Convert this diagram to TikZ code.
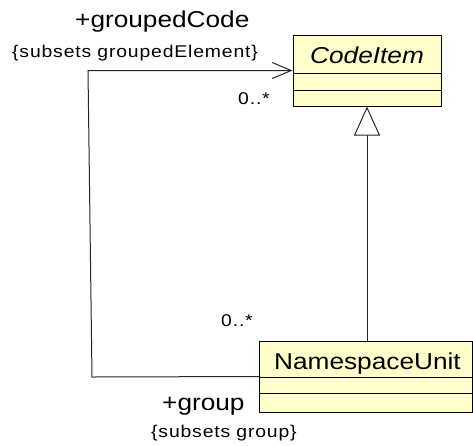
\documentclass[tikz,border=0pt]{standalone}
\usepackage{fontspec}
\setmainfont{Liberation Sans}
\newfontfamily\bigfont[FakeStretch=1.14]{Liberation Sans}
\newfontfamily\bigitfont[FakeStretch=1.14]{Liberation Sans Italic}
\newfontfamily\smallfont[FakeStretch=1.14,LetterSpace=4.9]{Liberation Sans}
\usetikzlibrary{arrows.meta}
\definecolor{umlfill}{RGB}{255,255,204}
\tikzset{
  classbox/.style={draw=black, fill=umlfill, line width=1pt, inner sep=0pt, rectangle},
  compline/.style={draw=black, line width=1pt},
  conn/.style={draw=black!85, line width=1pt},
  bigtxt/.style={inner sep=0pt, anchor=base west, font=\bigfont\fontsize{23}{27}\selectfont},
  bigittxt/.style={inner sep=0pt, anchor=base west, font=\bigitfont\fontsize{23}{27}\selectfont},
  smalltxt/.style={inner sep=0pt, anchor=base west, font=\smallfont\fontsize{17}{20}\selectfont},
}
\begin{document}
\begin{tikzpicture}[x=1pt,y=-1pt]
\useasboundingbox (0,0) rectangle (473,445);
% classes
\node[classbox, minimum width=148pt, minimum height=71pt] (codeitem) at (367,70.5) {};
\draw[compline] (293,73) -- (441,73);
\draw[compline] (293,90) -- (441,90);
\node[bigittxt] (codeitemname) at (310,63) {CodeItem};
\node[classbox, minimum width=213pt, minimum height=71pt] (nsu) at (366,376.5) {};
\draw[compline] (259.5,377) -- (472.5,377);
\draw[compline] (259.5,393) -- (472.5,393);
\node[bigtxt] (nsuname) at (274,369) {NamespaceUnit};
% generalization
\draw[conn, -{Triangle[open, fill=white, length=29pt, width=26pt]}] (nsu.north -| codeitem.south) -- (codeitem.south);
% association
\coordinate (c1) at (92,377);
\coordinate (c2) at (88,70.5);
\draw[conn, -{Straight Barb[length=19pt, width=16pt]}] (nsu.west) -- (c1) -- (c2) -- (codeitem.west);
% labels
\node[bigtxt] (rolecode) at (75,27) {+groupedCode};
\node[smalltxt] (subcode) at (12,57) {\{subsets groupedElement\}};
\node[smalltxt] (multtop) at (238,104) {0..*};
\node[smalltxt] (multbot) at (221,326) {0..*};
\node[bigtxt] (rolegroup) at (162,410) {+group};
\node[smalltxt] (subgroup) at (151,437) {\{subsets group\}};
\end{tikzpicture}
\end{document}
